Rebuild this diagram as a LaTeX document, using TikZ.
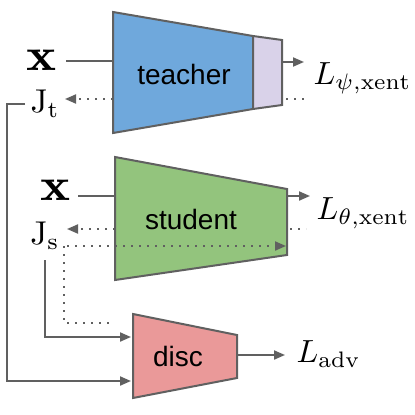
\documentclass[tikz,border=0pt]{standalone}
\usepackage{fontspec}
\newfontfamily\arialfont{Liberation Sans}
\usetikzlibrary{arrows.meta}
\definecolor{edgegray}{HTML}{606060}
\definecolor{tblue}{HTML}{6FA8DC}
\definecolor{tlav}{HTML}{D9D2E9}
\definecolor{sgreen}{HTML}{93C47D}
\definecolor{dred}{HTML}{EA9999}
\tikzset{
  netshape/.style={draw=edgegray, line width=2pt, line join=miter},
  conn/.style={draw=edgegray, line width=2pt},
  arr/.style={conn, -{Triangle[length=11pt,width=9pt]}},
  dotconn/.style={draw=edgegray, line width=2pt, dash pattern=on 2pt off 6pt},
  dotarr/.style={dotconn, -{Triangle[length=11pt,width=9pt,sep=0pt]}},
  netlabel/.style={font=\arialfont\fontsize{28}{30}\selectfont, inner sep=0pt},
  xlabel/.style={font=\normalsize, xscale=5.7, yscale=4.6, inner sep=0pt},
  jlabel/.style={font=\normalsize, scale=3.3, inner sep=0pt},
  llabel/.style={font=\normalsize, scale=3.2, inner sep=0pt, anchor=west}
}
\begin{document}
\begin{tikzpicture}[x=1pt,y=-1pt]
\useasboundingbox (0,0) rectangle (415,415);
% teacher
\coordinate (TA) at (113,12);
\coordinate (TB) at (253,36);
\coordinate (TC) at (253,109);
\coordinate (TD) at (113,133);
\coordinate (TE) at (282,40);
\coordinate (TF) at (282,105);
\fill[tlav] (TB) -- (TE) -- (TF) -- (TC) -- cycle;
\fill[tblue] (TA) -- (TB) -- (TC) -- (TD) -- cycle;
\draw[netshape] (TB) -- (TE) -- (TF) -- (TC);
\draw[netshape] (TA) -- (TB) -- (TC) -- (TD) -- cycle;
\node[netlabel] (teacher) at (184,74) {teacher};
% student
\coordinate (SA) at (115,157);
\coordinate (SB) at (287,189);
\coordinate (SC) at (287,255);
\coordinate (SD) at (115,280);
\draw[netshape, fill=sgreen] (SA) -- (SB) -- (SC) -- (SD) -- cycle;
\node[netlabel] (student) at (191,219) {student};
% disc
\coordinate (DA) at (133,314);
\coordinate (DB) at (237,335);
\coordinate (DC) at (237,378);
\coordinate (DD) at (133,398);
\draw[netshape, fill=dred] (DA) -- (DB) -- (DC) -- (DD) -- cycle;
\node[netlabel] (disc) at (178,356) {disc};
% labels
\node[xlabel] (xt) at (42,60) {$\mathbf{x}$};
\node[jlabel] (Jt) at (45,104) {$\mathrm{J}_{\mathrm{t}}$};
\node[xlabel] (xs) at (56,190) {$\mathbf{x}$};
\node[jlabel] (Js) at (45,236) {$\mathrm{J}_{\mathrm{s}}$};
\node[llabel] (Lpsi) at (313,78) {$L_{\psi,\mathrm{xent}}$};
\node[llabel] (Ltheta) at (316,213) {$L_{\theta,\mathrm{xent}}$};
\node[llabel] (Ladv) at (296,354) {$L_{\mathrm{adv}}$};
% helper coordinates
\coordinate (xtin) at (113,61);
\coordinate (xtout) at (66,61);
\coordinate (tdotin) at (113,99);
\coordinate (tdotout) at (65,99);
\coordinate (tout1) at (282,62);
\coordinate (tout2) at (304,62);
\coordinate (tdot1) at (286,99);
\coordinate (tdot2) at (306,99);
\coordinate (jt1) at (25,104);
\coordinate (jt2) at (7,104);
\coordinate (jt3) at (7,381);
\coordinate (jt4) at (131,381);
\coordinate (xsin) at (115,196);
\coordinate (xsout) at (78,196);
\coordinate (sdotin) at (115,229);
\coordinate (sdotout) at (67,229);
\coordinate (sdl1) at (67,246);
\coordinate (sdl2) at (286,246);
\coordinate (sdd1) at (64,246);
\coordinate (sdd2) at (64,323);
\coordinate (sdd3) at (110,323);
\coordinate (js1) at (45,260);
\coordinate (js2) at (45,337);
\coordinate (js3) at (131,337);
\coordinate (sout1) at (287,196);
\coordinate (sout2) at (310,196);
\coordinate (sdot1) at (290,229);
\coordinate (sdot2) at (306,229);
\coordinate (dout1) at (237,355);
\coordinate (dout2) at (285,355);
% connectors
\draw[conn] (xtout) -- (xtin);
\draw[dotarr] (tdotin) -- (tdotout);
\draw[arr] (tout1) -- (tout2);
\draw[dotconn] (tdot1) -- (tdot2);
\draw[arr] (jt1) -- (jt2) -- (jt3) -- (jt4);
\draw[conn] (xsout) -- (xsin);
\draw[dotarr] (sdotin) -- (sdotout);
\draw[dotarr] (sdl1) -- (sdl2);
\draw[dotconn] (sdd1) -- (sdd2) -- (sdd3);
\draw[arr] (js1) -- (js2) -- (js3);
\draw[arr] (sout1) -- (sout2);
\draw[dotconn] (sdot1) -- (sdot2);
\draw[arr] (dout1) -- (dout2);
\end{tikzpicture}
\end{document}
